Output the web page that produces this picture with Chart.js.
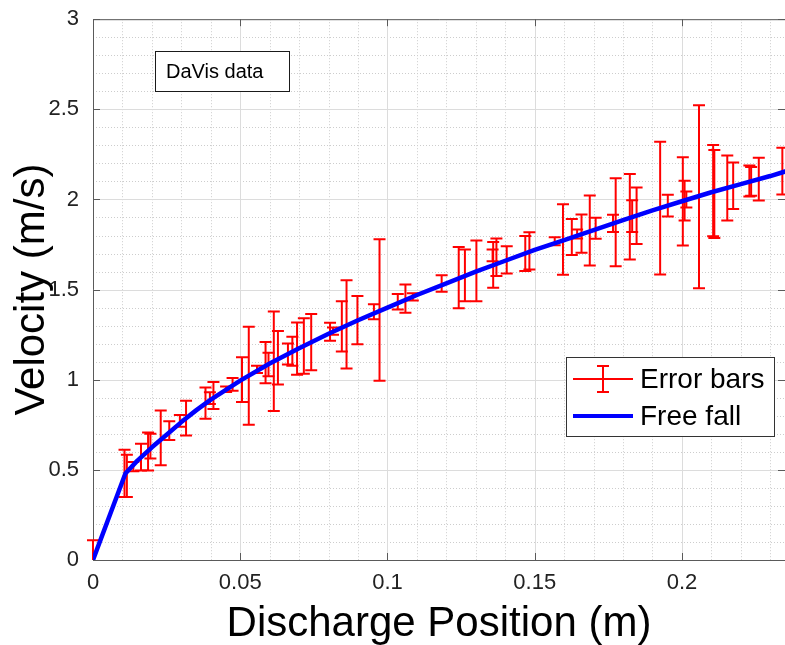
<!DOCTYPE html>
<html><head><meta charset="utf-8">
<script src="https://cdn.jsdelivr.net/npm/chart.js@4.4.1/dist/chart.umd.min.js"></script>
<style>html,body{margin:0;padding:0;background:#fff;overflow:hidden}</style>
</head><body>
<canvas id="c" width="785" height="645"></canvas>
<script>
const xTickValues = [0, 0.05, 0.1, 0.15, 0.2];
const xTickLabels = ['0', '0.05', '0.1', '0.15', '0.2'];
const yTickValues = [0, 0.5, 1, 1.5, 2, 2.5, 3];
const yTickLabels = ['0', '0.5', '1', '1.5', '2', '2.5', '3'];

// Error-bar series (DaVis data): position, mean velocity, half-length of bar
const errX = [0, 0.0107, 0.0115, 0.0137, 0.0163, 0.0187, 0.0195, 0.0230, 0.0259, 0.0295,
  0.0316, 0.0382, 0.0397, 0.0409, 0.0452, 0.0474, 0.0506, 0.0529, 0.0557, 0.0586,
  0.0596, 0.0614, 0.0628, 0.0662, 0.0677, 0.0693, 0.0716, 0.0741, 0.0805, 0.0815,
  0.0845, 0.0861, 0.0898, 0.0954, 0.0973, 0.1035, 0.1061, 0.1086, 0.1184, 0.1242,
  0.1263, 0.1302, 0.1357, 0.1359, 0.1370, 0.1405, 0.1468, 0.1482, 0.1568, 0.1596,
  0.1626, 0.1644, 0.1659, 0.1687, 0.1707, 0.1766, 0.1775, 0.1823, 0.1831, 0.1846,
  0.1926, 0.1952, 0.2003, 0.2009, 0.2015, 0.2058, 0.2106, 0.2110, 0.2154, 0.2174,
  0.2229, 0.2235, 0.2261, 0.2341];
const errY = [0, 0.481, 0.467, 0.518, 0.571, 0.602, 0.632, 0.677, 0.718, 0.772,
  0.787, 0.870, 0.898, 0.913, 0.947, 0.974, 1.001, 1.022, 1.057, 1.095,
  1.085, 1.103, 1.122, 1.143, 1.158, 1.172, 1.187, 1.209, 1.266, 1.270,
  1.296, 1.307, 1.331, 1.377, 1.387, 1.433, 1.450, 1.460, 1.534, 1.566,
  1.579, 1.604, 1.690, 1.637, 1.679, 1.665, 1.700, 1.715, 1.768, 1.778,
  1.792, 1.808, 1.810, 1.828, 1.840, 1.867, 1.874, 1.904, 1.907, 1.910,
  1.952, 1.966, 1.989, 1.994, 2.000, 2.015, 2.049, 2.030, 2.064, 2.076,
  2.102, 2.100, 2.113, 2.157];
const errE = [0.11, 0.131, 0.117, 0.025, 0.074, 0.105, 0.069, 0.152, 0.052, 0.033,
  0.097, 0.087, 0.032, 0.075, 0.015, 0.035, 0.124, 0.272, 0.020, 0.115,
  0.065, 0.276, 0.148, 0.058, 0.081, 0.145, 0.154, 0.156, 0.050, 0.020,
  0.140, 0.245, 0.134, 0.042, 0.393, 0.043, 0.078, 0.020, 0.046, 0.170,
  0.143, 0.168, 0.033, 0.127, 0.104, 0.075, 0.097, 0.103, 0.022, 0.195,
  0.100, 0.025, 0.106, 0.194, 0.058, 0.048, 0.244, 0.237, 0.088, 0.157,
  0.368, 0.060, 0.245, 0.110, 0.044, 0.508, 0.253, 0.244, 0.180, 0.129,
  0.086, 0.080, 0.119, 0.130];

// Free-fall curve
const fallX = [0, 0.011, 0.015, 0.02, 0.025, 0.03, 0.035, 0.04, 0.05, 0.06, 0.07, 0.08,
  0.09, 0.10, 0.11, 0.12, 0.13, 0.14, 0.15, 0.16, 0.17, 0.18, 0.19, 0.20, 0.21, 0.22, 0.23, 0.235];
const fallY = [0, 0.48, 0.55, 0.625, 0.695, 0.765, 0.83, 0.89, 0.995, 1.09, 1.175, 1.255,
  1.33, 1.40, 1.47, 1.535, 1.60, 1.66, 1.72, 1.775, 1.83, 1.885, 1.94, 1.99, 2.04, 2.085, 2.13, 2.155];

const FONT = '"Liberation Sans", Arial, Helvetica, sans-serif';

const decor = {
  id: 'decor',
  beforeDatasetsDraw(chart) {
    const { ctx, chartArea: a, scales: { x, y } } = chart;
    ctx.save();
    // minor grid
    ctx.lineWidth = 1;
    ctx.strokeStyle = '#cdcdcd';
    ctx.setLineDash([1, 2]);
    for (let i = 1; i * 0.01 < 0.2355; i++) {
      const v = i * 0.01;
      if (Math.abs(v / 0.05 - Math.round(v / 0.05)) < 1e-6) continue;
      const px = Math.round(x.getPixelForValue(v)) + 0.5;
      ctx.beginPath(); ctx.moveTo(px, a.top); ctx.lineTo(px, a.bottom); ctx.stroke();
    }
    for (let i = 1; i < 30; i++) {
      if (i % 5 === 0) continue;
      const py = Math.round(y.getPixelForValue(i * 0.1)) + 0.5;
      ctx.beginPath(); ctx.moveTo(a.left, py); ctx.lineTo(a.right, py); ctx.stroke();
    }
    // major grid
    ctx.setLineDash([]);
    ctx.strokeStyle = '#dcdcdc';
    xTickValues.forEach(v => {
      const px = Math.round(x.getPixelForValue(v)) + 0.5;
      ctx.beginPath(); ctx.moveTo(px, a.top); ctx.lineTo(px, a.bottom); ctx.stroke();
    });
    yTickValues.forEach(v => {
      const py = Math.round(y.getPixelForValue(v)) + 0.5;
      ctx.beginPath(); ctx.moveTo(a.left, py); ctx.lineTo(a.right, py); ctx.stroke();
    });
    // axes box (left, top, bottom; right edge falls at the window edge)
    ctx.strokeStyle = '#5a5a5a';
    ctx.beginPath();
    ctx.moveTo(a.left + 0.5, a.top + 0.5); ctx.lineTo(a.right, a.top + 0.5);
    ctx.moveTo(a.left + 0.5, a.top); ctx.lineTo(a.left + 0.5, a.bottom + 0.5);
    ctx.moveTo(a.left, a.bottom + 0.5); ctx.lineTo(a.right, a.bottom + 0.5);
    ctx.stroke();
    // tick marks (inside)
    const tl = 7;
    xTickValues.forEach(v => {
      const px = Math.round(x.getPixelForValue(v)) + 0.5;
      ctx.beginPath();
      ctx.moveTo(px, a.bottom); ctx.lineTo(px, a.bottom - tl);
      ctx.moveTo(px, a.top); ctx.lineTo(px, a.top + tl);
      ctx.stroke();
    });
    yTickValues.forEach(v => {
      const py = Math.round(y.getPixelForValue(v)) + 0.5;
      ctx.beginPath();
      ctx.moveTo(a.left, py); ctx.lineTo(a.left + tl, py);
      ctx.moveTo(a.right, py); ctx.lineTo(a.right - tl, py);
      ctx.stroke();
    });
    // error bars
    ctx.beginPath();
    ctx.rect(0, a.top, chart.width, a.bottom - a.top);
    ctx.clip();
    ctx.strokeStyle = '#ff0000';
    ctx.lineWidth = 2;
    const cap = 6;
    const ds = chart.data.datasets[0].data;
    ds.forEach((p, i) => {
      const px = x.getPixelForValue(p.x);
      const pt = y.getPixelForValue(p.y + errE[i]);
      const pb = y.getPixelForValue(p.y - errE[i]);
      ctx.beginPath();
      ctx.moveTo(px, pt); ctx.lineTo(px, pb);
      ctx.moveTo(px - cap, pt); ctx.lineTo(px + cap, pt);
      ctx.moveTo(px - cap, pb); ctx.lineTo(px + cap, pb);
      ctx.stroke();
    });
    ctx.restore();
  },
  afterDraw(chart) {
    const { ctx } = chart;
    ctx.save();
    // DaVis data label box
    ctx.fillStyle = '#fff';
    ctx.fillRect(155, 51, 134, 40);
    ctx.strokeStyle = '#1a1a1a';
    ctx.lineWidth = 1;
    ctx.strokeRect(155.5, 51.5, 134, 40);
    ctx.fillStyle = '#000';
    ctx.font = '20px ' + FONT;
    ctx.textBaseline = 'middle';
    ctx.textAlign = 'left';
    ctx.fillText('DaVis data', 166, 72);
    // legend
    ctx.fillStyle = '#fff';
    ctx.fillRect(566, 357, 208, 79);
    ctx.strokeStyle = '#333';
    ctx.strokeRect(566.5, 357.5, 208, 79);
    ctx.strokeStyle = '#ff0000';
    ctx.lineWidth = 2;
    ctx.beginPath();
    ctx.moveTo(573, 379); ctx.lineTo(633, 379);
    ctx.moveTo(603, 366); ctx.lineTo(603, 392);
    ctx.moveTo(597, 366); ctx.lineTo(609, 366);
    ctx.moveTo(597, 392); ctx.lineTo(609, 392);
    ctx.stroke();
    ctx.strokeStyle = '#0000ff';
    ctx.lineWidth = 4;
    ctx.beginPath(); ctx.moveTo(573, 416); ctx.lineTo(633, 416); ctx.stroke();
    ctx.fillStyle = '#000';
    ctx.font = '28px ' + FONT;
    ctx.fillText('Error bars', 640, 380);
    ctx.fillText('Free fall', 640, 417);
    ctx.restore();
  }
};

new Chart(document.getElementById('c'), {
  type: 'scatter',
  data: {
    datasets: [
      {
        label: 'Error bars',
        data: errX.map((v, i) => ({ x: v, y: errY[i] })),
        pointRadius: 0, showLine: false, borderColor: '#ff0000'
      },
      {
        label: 'Free fall',
        data: fallX.map((v, i) => ({ x: v, y: fallY[i] })),
        showLine: true, pointRadius: 0, borderColor: '#0000ff', borderWidth: 4.5,
        tension: 0, fill: false, borderCapStyle: 'round', borderJoinStyle: 'round'
      }
    ]
  },
  options: {
    responsive: false, animation: false, devicePixelRatio: 1,
    layout: { padding: { top: 17, right: 0, left: 0, bottom: 0 } },
    plugins: { legend: { display: false }, tooltip: { enabled: false } },
    scales: {
      x: {
        type: 'linear', min: 0, max: 0.235,
        afterFit: s => { s.height = 85; },
        afterBuildTicks: s => { s.ticks = xTickValues.map(v => ({ value: v })); },
        grid: { display: false }, border: { display: false },
        ticks: { color: '#222', font: { family: FONT, size: 22 }, padding: 2, maxRotation: 0,
          callback: (v) => xTickLabels[xTickValues.indexOf(v)] },
        title: { display: true, text: 'Discharge Position (m)', color: '#000',
          font: { family: FONT, size: 42, lineHeight: 1 }, padding: { top: 0, bottom: 0 } }
      },
      y: {
        type: 'linear', min: 0, max: 3,
        afterFit: s => { s.width = 93; },
        afterBuildTicks: s => { s.ticks = yTickValues.map(v => ({ value: v })); },
        grid: { display: false }, border: { display: false },
        ticks: { color: '#222', font: { family: FONT, size: 22 }, padding: 6,
          callback: (v) => yTickLabels[yTickValues.indexOf(v)] },
        title: { display: true, text: 'Velocity (m/s)', color: '#000',
          font: { family: FONT, size: 42, lineHeight: 1 }, padding: { top: 11, bottom: 0 } }
      }
    }
  },
  plugins: [decor]
});
</script>
</body></html>
